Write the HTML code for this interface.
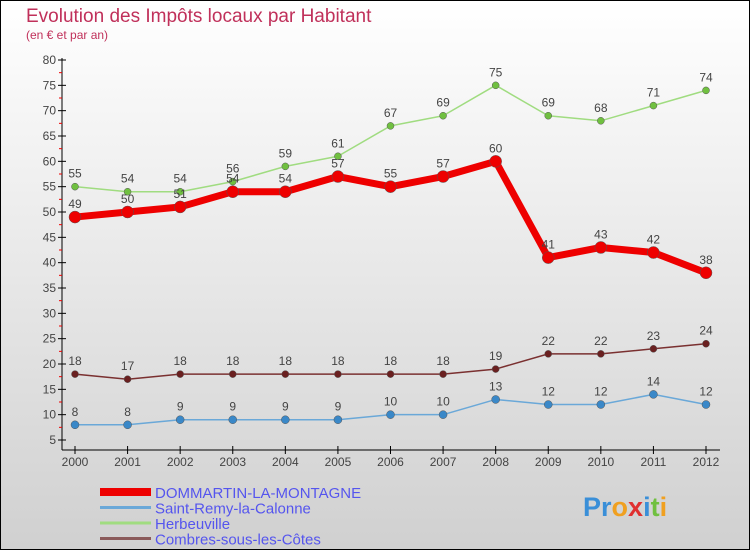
<!DOCTYPE html>
<html><head><meta charset="utf-8"><style>
body{margin:0}
#c{width:750px;height:550px;position:relative;overflow:hidden;font-family:"Liberation Sans",sans-serif}
</style></head><body>
<div id="c">
<svg id="s" width="750" height="550" xmlns="http://www.w3.org/2000/svg">
<defs><linearGradient id="bg" x1="0" y1="0" x2="0" y2="1"><stop offset="0" stop-color="#ffffff"/><stop offset="1" stop-color="#d0d0d0"/></linearGradient></defs>
<rect x="0.5" y="0.5" width="749" height="549" fill="url(#bg)" stroke="#000"/>
<text x="26" y="22" font-size="19" fill="#c0305a">Evolution des Impôts locaux par Habitant</text>
<text x="26" y="39" font-size="12" fill="#c0305a">(en € et par an)</text>
<g id="axes"></g>
<g id="series"></g>
<g id="legend"></g>
<text x="583" y="516" font-size="27" font-weight="bold"><tspan fill="#3a8fd8">Pr</tspan><tspan fill="#f0a020">o</tspan><tspan fill="#e03030">x</tspan><tspan fill="#3a8fd8">i</tspan><tspan fill="#70c040">t</tspan><tspan fill="#f0a020">i</tspan></text>
</svg>
</div>
<script>
const years=[2000,2001,2002,2003,2004,2005,2006,2007,2008,2009,2010,2011,2012];
const yTicks=[5,10,15,20,25,30,35,40,45,50,55,60,65,70,75,80];
const dommartin=[49,50,51,54,54,57,55,57,60,41,43,42,38];
const saintRemy=[8,8,9,9,9,9,10,10,13,12,12,14,12];
const herbeuville=[55,54,54,56,59,61,67,69,75,69,68,71,74];
const combres=[18,17,18,18,18,18,18,18,19,22,22,23,24];
const names=["DOMMARTIN-LA-MONTAGNE","Saint-Remy-la-Calonne","Herbeuville","Combres-sous-les-Côtes"];
const NS="http://www.w3.org/2000/svg";
const xS=i=>75+i*(706-75)/12;
const yS=v=>440-(v-5)*380/75;
function mk(t,a,p){const e=document.createElementNS(NS,t);for(const k in a)e.setAttribute(k,a[k]);p.appendChild(e);return e;}
const ax=document.getElementById('axes');
const yaxis=mk('line',{x1:62,y1:58,x2:62,y2:450,stroke:'#000'},ax);


const xaxis=mk('line',{x1:62,y1:450,x2:720,y2:450,stroke:'#000'},ax);


yTicks.forEach(v=>{const y=yS(v);
mk('line',{x1:58,y1:y,x2:66,y2:y,stroke:'#000'},ax);
if(v<80)mk('line',{x1:59,y1:yS(v+2.5),x2:62,y2:yS(v+2.5),stroke:'#e00'},ax);
const t=mk('text',{x:56,y:y+4,'font-size':12,'text-anchor':'end',fill:'#444'},ax);t.textContent=v;

});
years.forEach((yr,i)=>{const x=xS(i);
mk('line',{x1:x,y1:446,x2:x,y2:454,stroke:'#000'},ax);
const t=mk('text',{x:x,y:466,'font-size':12,'text-anchor':'middle',fill:'#444'},ax);t.textContent=yr;

});
const sg=document.getElementById('series');
function series(data,color,dot,w,r,name){
const g=mk('g',{},sg);


mk('polyline',{points:data.map((v,i)=>xS(i)+','+yS(v)).join(' '),fill:'none',stroke:color,'stroke-width':w,'stroke-linejoin':'round'},g);
data.forEach((v,i)=>{const c=mk('circle',{cx:xS(i),cy:yS(v),r:r,fill:dot,stroke:'#555','stroke-width':0.5},g);


const t=mk('text',{x:xS(i),y:yS(v)-9,'font-size':12,'text-anchor':'middle',fill:'#444'},g);t.textContent=v;

});}
series(combres,'#7a3030','#6a2020',1.5,3.5,'series-combres');
series(saintRemy,'#6aa8d8','#3a88c8',1.5,4,'series-saint-remy');
series(herbeuville,'#a0dc80','#70c040',1.5,3.5,'series-herbeuville');
series(dommartin,'#ee0000','#ee0000',7,6,'series-dommartin');
const lg=document.getElementById('legend');
const lc=['#ee0000','#6aa8d8','#a0dc80','#8a5a5a'],lw=[8,3,3,3];
names.forEach((n,i)=>{const y=492+i*15.5;
const g=mk('g',{},lg);


mk('line',{x1:100,y1:y,x2:151,y2:y,stroke:lc[i],'stroke-width':lw[i]},g);
const t=mk('text',{x:155,y:y+6,'font-size':15,fill:'#5555ee'},g);t.textContent=n;});
</script>
</body></html>
